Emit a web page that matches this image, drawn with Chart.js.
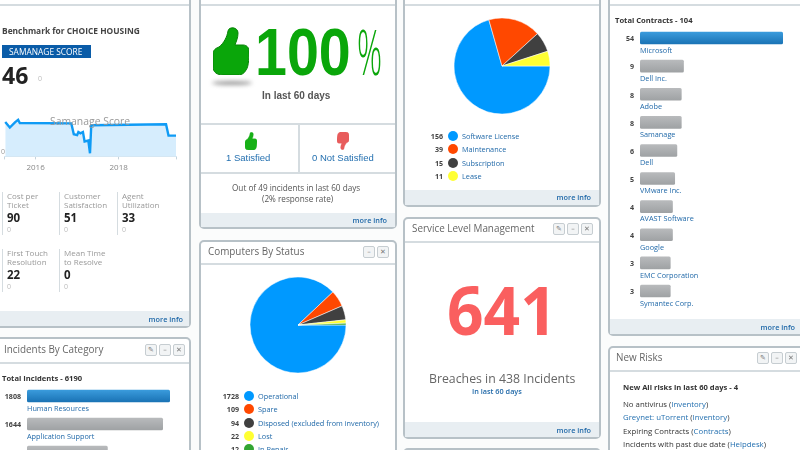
<!DOCTYPE html>
<html>
<head>
<meta charset="utf-8">
<title>Dashboard</title>
<script src="https://cdn.jsdelivr.net/npm/chart.js@4/dist/chart.umd.min.js"></script>
<style>
  html, body { margin: 0; width: 800px; height: 450px; overflow: hidden; background: #fbfcfc; }
  #page { position: absolute; left: 0; top: 0; width: 800px; height: 450px; overflow: hidden; font-family: "Open Sans", sans-serif; color: #333; filter: blur(0.45px); }
  .abs { position: absolute; }
  .panel { position: absolute; box-sizing: border-box; background: #fff; border: 2px solid #b7c1c7; border-radius: 5px; }
  .foot { position: absolute; background: #e8eef2; }
  .rule { position: absolute; background: #d5dce0; }
  .btn { position: absolute; box-sizing: border-box; width: 12px; height: 12px; border: 1px solid #c6cdd1; border-radius: 2px; background: #f2f4f5; color: #777; font-family: "DejaVu Sans"; font-size: 7px; line-height: 10px; text-align: center; }
  .t { position: absolute; white-space: nowrap; transform: translateY(-50%); }
  .title { font-size: 9.9px; color: #666; }
  .link { color: #1f68a8; font-size: 7.3px; }
  .num { font-weight: bold; font-size: 7.1px; color: #444; }
  .more { color: #1f68a8; font-size: 7.3px; font-weight: 600; }
  canvas { position: absolute; }
  svg { position: absolute; }
</style>
</head>
<body>
<div id="page"></div>
<script>
// ----- data -----
const scoreYears = [2015.27, 2015.38, 2015.51, 2015.58, 2015.62, 2016.86, 2016.92, 2017.0, 2017.03, 2017.08, 2017.14, 2017.18, 2017.27, 2017.31, 2017.34, 2019.14, 2019.2, 2019.38];
const scoreValues = [76, 64, 76, 81, 74, 73, 49, 47, 54, 51, 54, 33, 35, 7, 69, 71, 46, 46];
const scoreTicks = [2016, 2018];

const computerStatus = ["Operational", "Spare", "Disposed (excluded from inventory)", "Lost", "In Repair"];
const computerCounts = [1728, 109, 94, 22, 12];
const contractTypes = ["Software License", "Maintenance", "Subscription", "Lease"];
const contractCounts = [156, 39, 15, 11];
const pieColors = ["#0099ff", "#ff4800", "#404040", "#ffff33", "#33a532"];

const vendors = ["Microsoft", "Dell Inc.", "Adobe", "Samanage", "Dell", "VMware Inc.", "AVAST Software", "Google", "EMC Corporation", "Symantec Corp."];
const vendorCounts = [54, 9, 8, 8, 6, 5, 4, 4, 3, 3];
const categories = ["Human Resources", "Application Support", ""];
const categoryCounts = [1808, 1644, 350];

const stats = [
  ["Cost per", "Ticket", "90"], ["Customer", "Satisfaction", "51"], ["Agent", "Utilization", "33"],
  ["First Touch", "Resolution", "22"], ["Mean Time", "to Resolve", "0"]
];
const riskLines = [
  [["No antivirus (", 0], ["Inventory", 1], [")", 0]],
  [["Greynet: uTorrent", 1], [" (", 0], ["Inventory", 1], [")", 0]],
  [["Expiring Contracts (", 0], ["Contracts", 1], [")", 0]],
  [["Incidents with past due date (", 0], ["Helpdesk", 1], [")", 0]]
];

// ----- small page helpers -----
const page = document.getElementById("page");

function box(cls, x, y, w, h) {
  const d = document.createElement("div");
  d.className = cls;
  d.style.cssText = `left:${x}px;top:${y}px;width:${w}px;height:${h}px`;
  page.appendChild(d);
  return d;
}

function txt(text, x, y, cls, css) {
  const d = document.createElement("div");
  d.className = "t " + (cls || "");
  d.textContent = text;
  d.style.cssText = `left:${x}px;top:${y}px;${css || ""}`;
  page.appendChild(d);
  return d;
}

function txtRight(text, right, y, cls, css) {
  return txt(text, right, y, cls, "transform:translate(-100%,-50%);" + (css || ""));
}

function buttons(xs, y) {
  const glyphs = xs.length === 3 ? ["✎", "–", "✕"] : ["–", "✕"];
  xs.forEach((x, i) => {
    const b = box("btn", x - 6, y - 6, 12, 12);
    b.textContent = glyphs[i];
  });
}

function panel(x, y, w, h, footY) {
  const p = box("panel", x, y, w, h);
  if (footY) box("foot", x + 2, footY, w - 4, y + h - footY - 2);
  return p;
}

function more(right, y) { txtRight("more info", right, y, "more"); }

function thumb(x, y, w, h, color, stroke, down) {
  const ns = "http://www.w3.org/2000/svg";
  const s = document.createElementNS(ns, "svg");
  s.setAttribute("viewBox", "0 0 36 48");
  s.setAttribute("preserveAspectRatio", "none");
  s.style.cssText = `left:${x}px;top:${y}px;width:${w}px;height:${h}px;${down ? "transform:scale(-1,-1);" : ""}`;
  const p = document.createElementNS(ns, "path");
  p.setAttribute("d", "M6 20 C11 16 14 10 15 4 C16 -1 25 0 25 6 C25 11 23 15 22 18 L30 18 C34 18 36 21 36 24 C36 27 36 40 33 43 C31 47 28 48 24 48 L10 48 C4 48 0 45 0 40 L0 27 C0 23 3 21 6 20 Z");
  p.setAttribute("fill", color);
  p.setAttribute("stroke", stroke);
  s.appendChild(p);
  page.appendChild(s);
}

function addCanvas(x, y, w, h) {
  const c = document.createElement("canvas");
  c.width = w; c.height = h;
  c.style.cssText = `left:${x}px;top:${y}px;width:${w}px;height:${h}px`;
  page.appendChild(c);
  return c;
}

// ----- panels -----
panel(-8, -30, 199, 358, 311);
panel(-8, 337, 199, 150);
box("rule", 0, 362, 189, 2);
panel(199, -30, 198, 259, 213);
panel(199, 240, 198, 250);
box("rule", 201, 263, 194, 2);
panel(403, -30, 198, 237, 190);
panel(403, 217, 198, 222, 422);
box("rule", 405, 241, 194, 2);
panel(403, 448, 198, 40);
panel(608, -30, 210, 366, 319);
panel(608, 346, 210, 140);
box("rule", 610, 370, 190, 2);
box("rule", 201, 123, 194, 1.5);
box("rule", 201, 172, 194, 1.5);
box("rule", 298, 123, 1.5, 49);
// header lines of the panels cut off by the top edge
box("rule", 0, 3.5, 189, 2);
box("rule", 201, 3.5, 194, 2);
box("rule", 405, 3.5, 194, 2);
box("rule", 610, 3.5, 190, 2);

// benchmark panel
txt("Benchmark for CHOICE HOUSING", 2, 30, "", "font-size:8.4px;font-weight:bold;color:#444");
box("abs", 2, 45, 89, 13).style.background = "#0a5ca8";
txt("SAMANAGE SCORE", 9, 51, "", "font-size:8.4px;color:#fff");
txt("46", 2, 75, "", "font-size:23px;font-weight:bold;color:#222");
txt("0", 38, 78, "", "font-size:7px;color:#bbb");
more(183, 319);

const statX = [7, 64, 122];
stats.forEach((s, i) => {
  const col = i % 3, row = Math.floor(i / 3);
  const dy = row * 57;
  box("rule", statX[col] - 5, 192 + dy, 1, 43);
  txt(s[0], statX[col], 195 + dy, "", "font-size:8px;color:#999");
  txt(s[1], statX[col], 204 + dy, "", "font-size:8px;color:#999");
  txt(s[2], statX[col], 217 + dy, "", "font-size:11.5px;font-weight:bold;color:#222");
  txt("0", statX[col], 229 + dy, "", "font-size:7px;color:#bbb");
});

// satisfaction panel
thumb(213, 27, 36, 48, "#0aa60a", "#078207");
box("abs", 212, 81, 40, 4).style.cssText += ";background:#999;border-radius:50%;filter:blur(2px)";
txt("100", 255, 52, "", "font-family:'Liberation Sans';font-weight:bold;font-size:66px;color:#0aa60a;transform:translateY(-50%) scaleX(0.87);transform-origin:left center");
txt("%", 357, 51, "", "font-family:'Open Sans';font-weight:300;font-size:62px;color:#0aa60a;transform:translateY(-50%) scaleX(0.5);transform-origin:left center");
txt("In last 60 days", 262, 95, "", "font-family:'Liberation Sans';font-weight:bold;font-size:10px;color:#555");
thumb(245, 132, 12, 18, "#17b017", "#17b017");
thumb(337, 132, 12, 18, "#e85c5c", "#e85c5c", true);
txt("1 Satisfied", 226, 157, "", "font-family:'Liberation Sans';font-size:9.5px;color:#2470b0");
txt("0 Not Satisfied", 312, 157, "", "font-family:'Liberation Sans';font-size:9.5px;color:#2470b0");
txt("Out of 49 incidents in last 60 days", 232, 187, "", "font-size:8.2px;color:#555");
txt("(2% response rate)", 262, 198, "", "font-size:8.2px;color:#555");
more(387, 220);

// service level
txt("Service Level Management", 412, 228, "title");
buttons([559, 573, 587], 229);
txt("641", 447, 309, "", "font-size:66px;font-weight:bold;color:#fa5f5f;transform:translateY(-50%) scaleX(0.97);transform-origin:left center");
txt("Breaches in 438 Incidents", 429, 378, "", "font-size:12.3px;color:#666");
txt("In last 60 days", 472, 391, "link", "font-weight:600");
more(591, 430);
more(591, 197);

// titles
txt("Incidents By Category", 4, 349, "title");
buttons([151, 165, 179], 350);
txt("Computers By Status", 208, 251, "title");
buttons([369, 383], 252);
txt("New Risks", 616, 357, "title");
buttons([763, 777, 791], 358);
more(795, 327);

// new risks list
txt("New All risks in last 60 days - 4", 623, 387, "", "font-size:7.6px;font-weight:bold;color:#333");
riskLines.forEach((parts, i) => {
  const line = txt("", 623, 404 + i * 13.4, "", "font-size:7.8px;color:#333");
  parts.forEach(p => {
    const s = document.createElement("span");
    s.textContent = p[0];
    if (p[1]) s.style.color = "#2470b0";
    line.appendChild(s);
  });
});

// ----- charts -----
const lineCanvas = addCanvas(0, 108, 180, 69);
txt("Samanage Score", 50, 121, "", "font-size:10.4px;color:#999");

new Chart(lineCanvas, {
  type: "line",
  data: {
    labels: scoreYears,
    datasets: [{
      data: scoreYears.map((yr, i) => ({ x: yr, y: scoreValues[i] })),
      borderColor: "#0f9bf5", backgroundColor: "#d6edfd", borderWidth: 2.4,
      fill: "origin", pointRadius: 0, tension: 0
    }]
  },
  options: {
    responsive: false, animation: false,
    layout: { padding: { left: 2, right: 4 } },
    plugins: { legend: { display: false }, tooltip: { enabled: false } },
    scales: {
      x: {
        type: "linear", min: 2015.24, max: 2019.38,
        // blank end ticks stop the first label from pushing the plot inwards
        afterBuildTicks: a => { a.ticks = [2015.24, ...scoreTicks, 2019.38].map(v => ({ value: v })); },
        grid: { drawOnChartArea: false, tickLength: 3, color: "#c5d3dc" }, border: { color: "#d5e6f2" },
        ticks: { color: "#888", font: { size: 8, family: "Open Sans" }, padding: 4, maxRotation: 0, autoSkip: false, callback: v => scoreTicks.includes(v) ? String(v) : "" }
      },
      y: {
        min: 0, max: 100,
        afterBuildTicks: a => { a.ticks = [{ value: 0 }]; },
        grid: { display: false, drawTicks: false }, border: { display: false },
        ticks: { mirror: true, color: "#999", font: { size: 7, family: "Open Sans" }, padding: -1, labelOffset: -4 }
      }
    }
  }
});

function drawPie(x, y, counts, colors) {
  new Chart(addCanvas(x, y, 100, 100), {
    type: "pie",
    data: { labels: counts.map(String), datasets: [{ data: counts, backgroundColor: colors, borderColor: "#fff", borderWidth: 0.5 }] },
    options: {
      responsive: false, animation: false, rotation: 90, radius: 48,
      plugins: { legend: { display: false }, tooltip: { enabled: false } }
    }
  });
}

function pieLegend(names, counts, numRight, dotX, labelX, firstY) {
  names.forEach((name, i) => {
    const y = firstY + i * 13.4;
    txtRight(String(counts[i]), numRight, y, "num");
    const dot = box("abs", dotX - 5, y - 5, 10, 10);
    dot.style.background = pieColors[i];
    dot.style.borderRadius = "50%";
    txt(name, labelX, y, "link");
  });
}

drawPie(452, 16, contractCounts, pieColors);
pieLegend(contractTypes, contractCounts, 443, 453, 462, 136);
drawPie(248, 275, computerCounts, pieColors);
pieLegend(computerStatus, computerCounts, 239, 249, 258, 395.7);

function barGradient(ctx) {
  const chart = ctx.chart, yScale = chart.scales.y;
  const first = ctx.dataIndex === 0;
  const mid = yScale && ctx.dataIndex !== undefined ? yScale.getPixelForValue(ctx.dataIndex) : NaN;
  if (!isFinite(mid)) return first ? "#2485c7" : "#a8abad";
  const g = chart.ctx.createLinearGradient(0, mid - 6, 0, mid + 6);
  g.addColorStop(0, first ? "#3a9bdc" : "#b8babc");
  g.addColorStop(1, first ? "#1a73b5" : "#9fa2a4");
  return g;
}

// bars keep a fixed stub, so the value axis starts below zero
function drawBars(x, y, rowH, names, counts, axisMin, axisMax) {
  new Chart(addCanvas(x, y, 143, Math.round(rowH * names.length)), {
    type: "bar",
    data: {
      labels: names,
      datasets: [{
        data: counts, base: axisMin, backgroundColor: barGradient, borderRadius: 1.5,
        borderSkipped: false, barPercentage: 0.45, categoryPercentage: 1
      }]
    },
    options: {
      indexAxis: "y", responsive: false, animation: false,
      plugins: { legend: { display: false }, tooltip: { enabled: false } },
      scales: { x: { display: false, min: axisMin, max: axisMax }, y: { display: false } }
    }
  });
  names.forEach((name, i) => {
    const mid = y + rowH * (i + 0.5);
    if (!name) return;
    txtRight(String(counts[i]), x - 6, mid, "num");
    txt(name, x, mid + 11.5, "link");
  });
}

txt("Total Contracts - 104", 615, 20, "", "font-size:7.6px;font-weight:bold;color:#333");
drawBars(640, 24.3, 28.1, vendors, vendorCounts, -10.9, 54);
txt("Total Incidents - 6190", 2, 378, "", "font-size:7.6px;font-weight:bold;color:#333");
drawBars(27, 382, 28, categories, categoryCounts, -1541, 1808);
</script>
</body>
</html>
